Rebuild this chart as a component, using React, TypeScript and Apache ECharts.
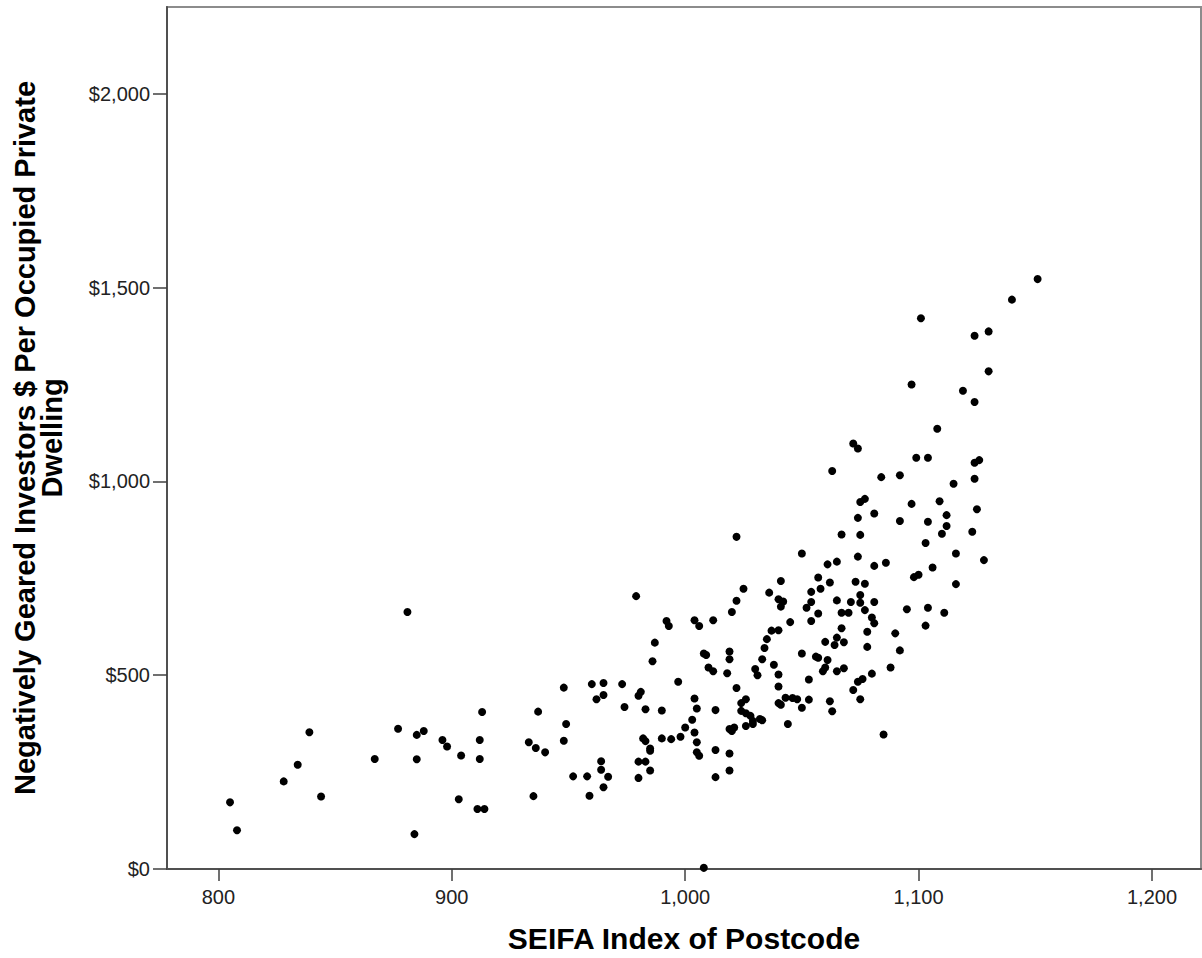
import React, { useEffect, useRef } from "react";
import * as echarts from "echarts";

// SEIFA index of postcode (x) and negatively geared investors $ per dwelling (y)
const seifaIndex: number[] = [
  881, 805, 808, 828, 834, 839, 844, 867, 877, 885, 888, 885, 884, 896, 898, 904, 903, 912, 912, 913, 911, 914, 933, 936, 940, 937, 935,
  1050, 1061, 1065, 1074, 1081, 1086, 1116, 1128, 1098, 1100, 1106, 1116, 1095, 1104, 1111, 1103, 1090, 1092, 1088, 1085,
  1057, 1062, 1058, 1054, 1041, 1036, 1040, 1042, 1041, 1025, 1022, 1020, 1012, 1004, 1006, 992, 993, 979, 987, 986,
  948, 960, 965, 962, 965, 973, 974, 980, 981, 983, 990, 997, 949, 948, 952, 958, 959, 964, 964, 967, 965, 980, 983, 980, 985,
  982, 983, 985, 985, 990, 994, 998, 1000, 1003, 1004, 1005, 1004, 1005, 1005, 1006, 1013, 1013, 1013, 1019, 1019, 1008,
  1008, 1009, 1010, 1012, 1018, 1019, 1019, 1022, 1024, 1026, 1024, 1026, 1028, 1029, 1029, 1026, 1033, 1032, 1019, 1021, 1020,
  1030, 1031, 1033, 1034, 1035, 1037, 1040, 1038, 1040, 1040, 1045, 1040, 1041, 1043, 1046, 1048, 1053, 1050, 1044, 1050,
  1053, 1056, 1057, 1061, 1060, 1059, 1065, 1068, 1062, 1063, 1060, 1065, 1064, 1068, 1067, 1054, 1057, 1052, 1054, 1065,
  1067, 1070, 1071, 1073, 1077, 1075, 1075, 1077, 1081, 1080, 1081, 1078, 1078, 1080, 1076, 1074, 1072, 1075,
  1151, 1140, 1101, 1124, 1130, 1130, 1097, 1119, 1124, 1108, 1072, 1074, 1099, 1104, 1124, 1126, 1063, 1084, 1092, 1124,
  1115, 1075, 1077, 1097, 1109, 1125, 1081, 1074, 1092, 1104, 1112, 1112, 1110, 1123, 1067, 1075, 1103, 1022,
];

const investorDollars: number[] = [
  663, 172, 100, 226, 269, 353, 187, 284, 362, 346, 356, 283, 90, 333, 316, 293, 180, 284, 333, 405, 155, 155, 327, 312, 301, 406, 188,
  814, 786, 793, 806, 782, 790, 814, 797, 753, 759, 778, 735, 670, 674, 661, 628, 608, 564, 520, 347,
  752, 739, 723, 715, 743, 713, 696, 690, 677, 723, 692, 663, 642, 642, 627, 640, 627, 704, 584, 536,
  468, 477, 480, 438, 449, 477, 418, 447, 457, 412, 409, 483, 374, 331, 239, 239, 189, 278, 256, 238, 211, 277, 277, 235, 254,
  337, 330, 311, 305, 337, 335, 341, 365, 385, 440, 414, 352, 327, 301, 292, 410, 307, 237, 298, 254, 3,
  556, 552, 520, 510, 505, 561, 541, 467, 428, 438, 408, 402, 395, 382, 374, 369, 384, 387, 361, 365, 356,
  516, 500, 541, 570, 593, 615, 616, 527, 502, 471, 637, 428, 424, 442, 441, 438, 437, 416, 374, 556,
  489, 548, 545, 539, 520, 510, 510, 518, 433, 407, 586, 597, 578, 585, 621, 640, 659, 674, 689, 693,
  661, 661, 689, 741, 736, 707, 687, 668, 689, 649, 634, 612, 573, 504, 490, 483, 462, 438,
  1522, 1469, 1421, 1376, 1387, 1284, 1250, 1234, 1205, 1136, 1098, 1085, 1061, 1061, 1048, 1055, 1027, 1011, 1016, 1007,
  994, 947, 955, 942, 949, 928, 917, 906, 898, 896, 913, 885, 865, 870, 863, 862, 841, 857,
];

const xTickValues: number[] = [800, 900, 1000, 1100, 1200];
const yTickValues: number[] = [0, 500, 1000, 1500, 2000];

const xTitle = "SEIFA Index of Postcode";
const yTitle = "Negatively Geared Investors $ Per Occupied Private\nDwelling";

const FONT = "'Liberation Sans', Arial, sans-serif";

export default function App() {
  const ref = useRef<HTMLDivElement>(null);

  useEffect(() => {
    if (!ref.current) return;
    const chart = echarts.init(ref.current, undefined, { renderer: "svg" });
    const points = seifaIndex.map((x, i) => [x, investorDollars[i]]);
    chart.setOption({
      animation: false,
      backgroundColor: "#ffffff",
      grid: {
        left: 167,
        top: 7,
        right: 1,
        bottom: 88,
        show: true,
        borderColor: "#8c8c8c",
        borderWidth: 2,
        backgroundColor: "transparent",
      },
      xAxis: {
        type: "value",
        min: 778,
        max: 1221,
        name: xTitle,
        nameLocation: "middle",
        nameGap: 54,
        nameTextStyle: { fontFamily: FONT, fontSize: 30, fontWeight: "bold", color: "#000", lineHeight: 30 },
        axisLine: { show: true, onZero: false, lineStyle: { color: "#505050", width: 2 } },
        axisTick: { show: true, customValues: xTickValues, length: 12, lineStyle: { color: "#404040", width: 1.5 } },
        axisLabel: {
          customValues: xTickValues,
          margin: 18,
          fontFamily: FONT,
          fontSize: 20,
          color: "#222",
          formatter: (v: number) => v.toLocaleString("en-US"),
        },
        splitLine: { show: false },
      },
      yAxis: {
        type: "value",
        min: 0,
        max: 2224,
        name: yTitle,
        nameLocation: "middle",
        nameGap: 102,
        nameRotate: 90,
        nameTextStyle: { fontFamily: FONT, fontSize: 29, fontWeight: "bold", color: "#000", lineHeight: 27, align: "center" },
        axisLine: { show: true, onZero: false, lineStyle: { color: "#505050", width: 2 } },
        axisTick: { show: true, customValues: yTickValues, length: 14, lineStyle: { color: "#404040", width: 1.5 } },
        axisLabel: {
          customValues: yTickValues,
          margin: 17,
          fontFamily: FONT,
          fontSize: 20,
          color: "#222",
          formatter: (v: number) => "$" + v.toLocaleString("en-US"),
        },
        splitLine: { show: false },
      },
      series: [
        {
          type: "scatter",
          data: points,
          symbol: "circle",
          symbolSize: 8,
          itemStyle: { color: "#000000", opacity: 1 },
          silent: true,
        },
      ],
    });
    return () => chart.dispose();
  }, []);

  return (
    <div
      ref={ref}
      style={{ position: "absolute", left: 0, top: 0, width: 1202, height: 958, background: "#fff" }}
    />
  );
}
